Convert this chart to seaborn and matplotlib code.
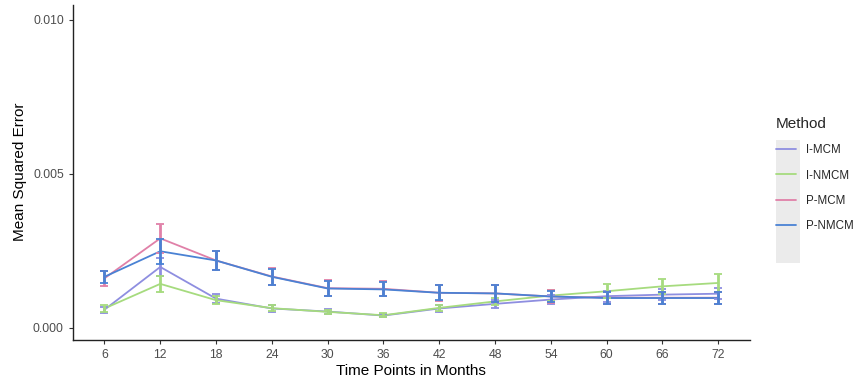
import matplotlib
matplotlib.use("Agg")
import matplotlib.pyplot as plt
import matplotlib.patches as mpatches
import numpy as np
import pandas as pd
import seaborn as sns

months = [6, 12, 18, 24, 30, 36, 42, 48, 54, 60, 66, 72]
methods = ["I-MCM", "I-NMCM", "P-MCM", "P-NMCM"]

i_mcm = [0.00058, 0.00197, 0.00094, 0.00062, 0.00052, 0.00039, 0.00062, 0.00077, 0.00091, 0.00102, 0.00107, 0.00110]
i_nmcm = [0.00062, 0.00142, 0.00089, 0.00063, 0.00051, 0.00040, 0.00064, 0.00085, 0.00104, 0.00118, 0.00134, 0.00145]
p_mcm = [0.00160, 0.00290, 0.00218, 0.00166, 0.00128, 0.00126, 0.00113, 0.00111, 0.00101, 0.00097, 0.00097, 0.00097]
p_nmcm = [0.00165, 0.00248, 0.00218, 0.00165, 0.00127, 0.00124, 0.00113, 0.00111, 0.00101, 0.00096, 0.00096, 0.00096]

i_mcm_err = [0.00010, 0.00030, 0.00014, 0.00010, 0.00007, 0.00006, 0.00010, 0.00014, 0.00016, 0.00018, 0.00018, 0.00018]
i_nmcm_err = [0.00011, 0.00027, 0.00012, 0.00009, 0.00007, 0.00006, 0.00010, 0.00012, 0.00018, 0.00022, 0.00025, 0.00028]
p_mcm_err = [0.00025, 0.00047, 0.00030, 0.00028, 0.00026, 0.00025, 0.00026, 0.00028, 0.00020, 0.00020, 0.00020, 0.00020]
p_nmcm_err = [0.00020, 0.00040, 0.00030, 0.00026, 0.00024, 0.00023, 0.00025, 0.00027, 0.00018, 0.00018, 0.00019, 0.00019]

colors = {"I-MCM": "#8e8ee0", "I-NMCM": "#a6db7e", "P-MCM": "#e080a8", "P-NMCM": "#4a82d4"}

values = {"I-MCM": i_mcm, "I-NMCM": i_nmcm, "P-MCM": p_mcm, "P-NMCM": p_nmcm}
errors = {"I-MCM": i_mcm_err, "I-NMCM": i_nmcm_err, "P-MCM": p_mcm_err, "P-NMCM": p_nmcm_err}

df = pd.concat(
    [pd.DataFrame({"month": months, "mse": values[m], "err": errors[m], "Method": m}) for m in methods],
    ignore_index=True,
)

sns.set_theme(style="ticks")
plt.rcParams["font.family"] = ["Liberation Sans", "DejaVu Sans"]

fig = plt.figure(figsize=(8.57, 3.81), dpi=100)
ax = fig.add_axes([0.085, 0.108, 0.79, 0.88])

sns.lineplot(data=df, x="month", y="mse", hue="Method", hue_order=methods,
             palette=colors, linewidth=1.3, ax=ax, legend=False)

for m in methods:
    sub = df[df["Method"] == m]
    ax.errorbar(sub["month"], sub["mse"], yerr=sub["err"], fmt="none",
                ecolor=colors[m], elinewidth=2.0, capsize=2.6, capthick=1.3)

ax.set_xlim(6 - 3.4, 72 + 3.4)
ax.set_ylim(-0.0004, 0.0105)
ax.set_xticks(months)
ax.set_yticks([0.0, 0.005, 0.010])
ax.set_yticklabels(["0.000", "0.005", "0.010"])
ax.tick_params(axis="both", labelsize=8.8, colors="#4d4d4d", length=3, width=0.8)
ax.tick_params(axis="both", color="#333333")
for side in ["left", "bottom"]:
    ax.spines[side].set_color("#222222")
    ax.spines[side].set_linewidth(1.0)
sns.despine(ax=ax)

ax.set_xlabel("Time Points in Months", fontsize=11, color="black", labelpad=2)
ax.set_ylabel("Mean Squared Error", fontsize=11, color="black", labelpad=4)

# legend with grey key background like ggplot
handles = [plt.Line2D([0], [0], color=colors[m], lw=1.3) for m in methods]
fig.patches.append(mpatches.Rectangle((776 / 857, 1 - 263 / 381), 24 / 857, 123 / 381,
                                      transform=fig.transFigure, facecolor="#ebebeb",
                                      edgecolor="none", zorder=0))
leg = fig.legend(handles, methods, title="Method", loc="upper left",
                 bbox_to_anchor=(776 / 857, 1 - 117 / 381), frameon=False,
                 fontsize=8.3, title_fontsize=11, handlelength=1.7,
                 labelspacing=1.15, handletextpad=0.9, borderaxespad=0,
                 borderpad=0)
leg._legend_box.align = "left"

fig.savefig("out.png", dpi=100)
